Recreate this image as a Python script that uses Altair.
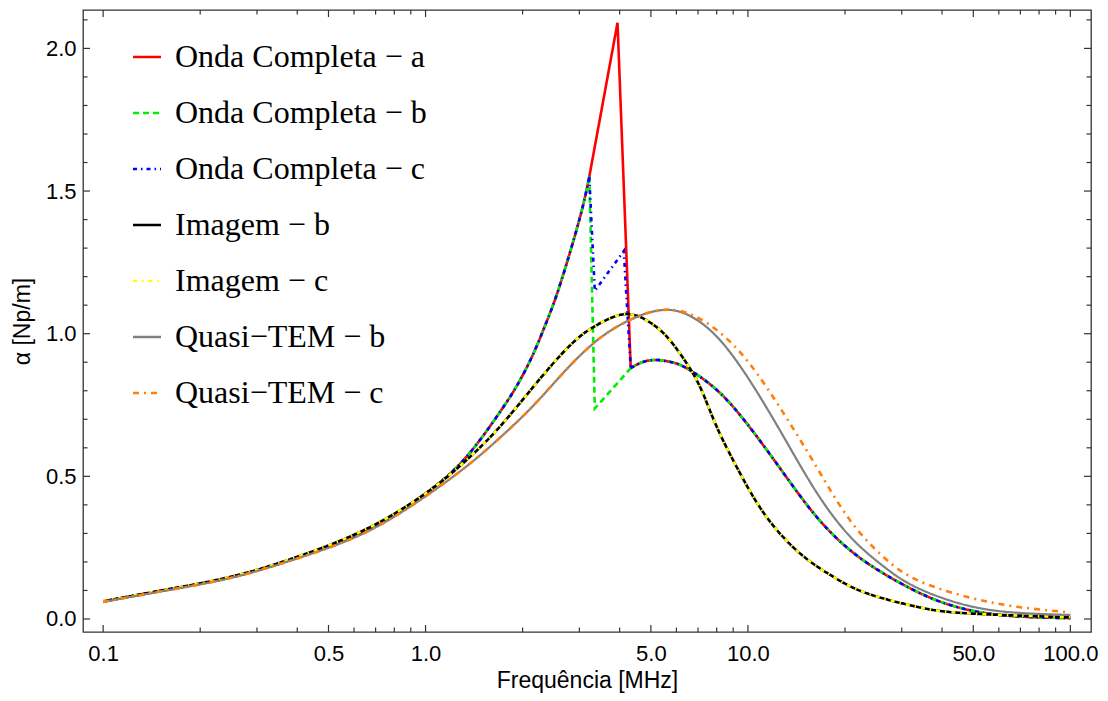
import altair as alt
import pandas as pd

# ---------------- data ----------------
series_names = [
    "Onda Completa − a",
    "Onda Completa − b",
    "Onda Completa − c",
    "Imagem − b",
    "Imagem − c",
    "Quasi−TEM − b",
    "Quasi−TEM − c",
]
series_colors = ["#ff0000", "#00ee00", "#0000ff", "#000000", "#ffff00", "#808080", "#ff7f0e"]
series_dashes = [[1, 0], [6, 4], [4, 4, 1.5, 4], [1, 0], [4, 5, 1.5, 5], [1, 0], [6, 5, 2, 5]]
series_widths = [2.6, 2.6, 2.6, 2.6, 2.6, 2.2, 2.6]

# Onda Completa (common rising part, all three cases)
onda_pre_f = [0.1, 0.157, 0.253, 0.407, 0.656, 1.0, 1.34, 1.70, 1.93, 2.16, 2.38, 2.61, 3.0, 3.22]
onda_pre_a = [0.061, 0.102, 0.148, 0.218, 0.312, 0.44, 0.569, 0.725, 0.822, 0.93, 1.045, 1.17, 1.40, 1.55]
# Onda Completa (common falling part)
onda_post_f = [4.33, 4.7, 5.21, 5.8, 6.45, 8.0, 10.1, 12.9, 16.3, 20.7, 26.3, 33.4, 42.4, 60.5, 100.0]
onda_post_a = [0.879, 0.90, 0.908, 0.90, 0.879, 0.803, 0.674, 0.511, 0.359, 0.242, 0.16, 0.096, 0.049, 0.014, 0.003]
# spikes (straight segments)
spike_a_f = [3.22, 3.94, 4.33]
spike_a_v = [1.55, 2.09, 0.879]
spike_b_f = [3.22, 3.35, 4.33]
spike_b_v = [1.55, 0.738, 0.879]
spike_c_f = [3.22, 3.35, 4.12, 4.33]
spike_c_v = [1.55, 1.15, 1.29, 0.879]

# Imagem (b and c coincide)
imagem_f = [0.1, 0.157, 0.253, 0.407, 0.656, 1.0, 1.34, 1.70, 2.16, 2.6, 3.01, 3.47, 4.2, 4.96,
            5.6, 6.3, 7.1, 8.0, 9.45, 11.4, 14.5, 18.4, 23.4, 33.4, 47.7, 100.0]
imagem_a = [0.062, 0.103, 0.150, 0.221, 0.316, 0.44, 0.557, 0.674, 0.814, 0.92, 0.99, 1.036, 1.069, 1.040,
            0.99, 0.914, 0.814, 0.674, 0.511, 0.359, 0.23, 0.148, 0.09, 0.043, 0.02, 0.006]

# Quasi-TEM b
qtem_b_f = [0.1, 0.157, 0.253, 0.407, 0.656, 1.0, 1.34, 1.70, 2.16, 2.67, 3.39, 4.3, 5.33, 6.45,
            8.0, 10.1, 12.9, 16.3, 20.7, 26.3, 33.4, 47.7, 68.2, 100.0]
qtem_b_a = [0.060, 0.100, 0.146, 0.215, 0.305, 0.43, 0.535, 0.635, 0.748, 0.862, 0.975, 1.048, 1.082, 1.068,
            0.99, 0.838, 0.639, 0.445, 0.29, 0.185, 0.11, 0.048, 0.022, 0.014]
# Quasi-TEM c
qtem_c_f = [0.1, 0.157, 0.253, 0.407, 0.656, 1.0, 1.34, 1.70, 2.16, 2.67, 3.39, 4.3, 5.33, 6.45,
            8.0, 10.1, 12.9, 16.3, 20.7, 26.3, 33.4, 47.7, 68.2, 100.0]
qtem_c_a = [0.060, 0.100, 0.146, 0.215, 0.305, 0.43, 0.535, 0.635, 0.748, 0.862, 0.975, 1.048, 1.082, 1.073,
            1.013, 0.896, 0.721, 0.534, 0.347, 0.218, 0.137, 0.078, 0.043, 0.023]

# tick positions
x_major = [0.1, 0.5, 1.0, 5.0, 10.0, 50.0, 100.0]
x_minor = [0.2, 0.3, 0.4, 0.6, 0.7, 0.8, 0.9, 2, 3, 4, 6, 7, 8, 9, 20, 30, 40, 60, 70, 80, 90]
y_major = [0.0, 0.5, 1.0, 1.5, 2.0]
y_minor = [0.1, 0.2, 0.3, 0.4, 0.6, 0.7, 0.8, 0.9, 1.1, 1.2, 1.3, 1.4, 1.6, 1.7, 1.8, 1.9, 2.1]

# ---------------- layout ----------------
W, H = 1008, 622
X_DOMAIN = [0.0866, 115.9]
Y_DOMAIN = [-0.0456, 2.1346]
SANS = "Liberation Sans"

xscale = alt.Scale(type="log", domain=X_DOMAIN, nice=False, zero=False)
yscale = alt.Scale(domain=Y_DOMAIN, nice=False, zero=False)
xaxis = alt.Axis(values=x_major, format=".1f", ticks=False, domain=False, grid=False,
                 labelFont=SANS, labelFontSize=22, labelColor="black", labelPadding=11,
                 labelFlush=False, labelOverlap=False,
                 title="Frequência [MHz]", titleFont=SANS, titleFontSize=23,
                 titleFontWeight="normal", titleColor="black",
                 titleBaseline="alphabetic", titleY=55)
yaxis = alt.Axis(values=y_major, format=".1f", ticks=False, domain=False, grid=False,
                 labelFont=SANS, labelFontSize=22, labelColor="black", labelPadding=7,
                 labelFlush=False, labelOverlap=False,
                 title="α [Np/m]", titleFont=SANS, titleFontSize=23,
                 titleFontWeight="normal", titleColor="black",
                 titleBaseline="alphabetic", titleX=-54)


def X():
    return alt.X("f:Q", scale=xscale, axis=xaxis)


def Y():
    return alt.Y("alpha:Q", scale=yscale, axis=yaxis)


def legend():
    return alt.Legend(orient="none", legendX=48, legendY=31, title=None,
                      symbolType="stroke", symbolSize=784,
                      symbolStrokeWidth=2.6, labelFont="Liberation Serif",
                      labelFontSize=32, labelColor="black", labelOffset=12,
                      rowPadding=24, padding=0, labelLimit=600)


color_enc = alt.Color("series:N",
                      scale=alt.Scale(domain=series_names, range=series_colors),
                      legend=legend())
dash_enc = alt.StrokeDash("series:N",
                          scale=alt.Scale(domain=series_names, range=series_dashes),
                          legend=legend())

SMOOTH = "natural"
segments = {
    0: [(onda_pre_f, onda_pre_a, SMOOTH), (spike_a_f, spike_a_v, "linear"), (onda_post_f, onda_post_a, SMOOTH)],
    1: [(onda_pre_f, onda_pre_a, SMOOTH), (spike_b_f, spike_b_v, "linear"), (onda_post_f, onda_post_a, SMOOTH)],
    2: [(onda_pre_f, onda_pre_a, SMOOTH), (spike_c_f, spike_c_v, "linear"), (onda_post_f, onda_post_a, SMOOTH)],
    3: [(imagem_f, imagem_a, SMOOTH)],
    4: [(imagem_f, imagem_a, SMOOTH)],
    5: [(qtem_b_f, qtem_b_a, SMOOTH)],
    6: [(qtem_c_f, qtem_c_a, SMOOTH)],
}

layers = []
for i, name in enumerate(series_names):
    for fs, vs, interp in segments[i]:
        df = pd.DataFrame({"f": fs, "alpha": vs, "series": name})
        layers.append(
            alt.Chart(df).mark_line(interpolate=interp, strokeWidth=series_widths[i], clip=True)
            .encode(x=X(), y=Y(), color=color_enc, strokeDash=dash_enc)
        )

TICK_COLOR = "#333333"


def xticks(vals, length):
    df = pd.DataFrame({"f": vals})
    bottom = alt.Chart(df).mark_rule(color=TICK_COLOR, strokeWidth=1.2).encode(
        x=X(), y=alt.value(H), y2=alt.value(H - length))
    top = alt.Chart(df).mark_rule(color=TICK_COLOR, strokeWidth=1.2).encode(
        x=X(), y=alt.value(0), y2=alt.value(length))
    return [bottom, top]


def yticks(vals, length):
    df = pd.DataFrame({"alpha": vals})
    left = alt.Chart(df).mark_rule(color=TICK_COLOR, strokeWidth=1.2).encode(
        y=Y(), x=alt.value(0), x2=alt.value(length))
    right = alt.Chart(df).mark_rule(color=TICK_COLOR, strokeWidth=1.2).encode(
        y=Y(), x=alt.value(W), x2=alt.value(W - length))
    return [left, right]


tick_layers = xticks(x_major, 7) + xticks(x_minor, 4.5) + yticks(y_major, 7) + yticks(y_minor, 4.5)

chart = alt.layer(*tick_layers, *layers).properties(
    width=W, height=H,
    autosize=alt.AutoSizeParams(type="none"),
    padding={"left": 83, "top": 10, "right": 17, "bottom": 69},
    background="white",
).configure_view(stroke="#333333", strokeWidth=1.3)

chart.save("out.html", embed_options={"renderer": "svg", "actions": False})
